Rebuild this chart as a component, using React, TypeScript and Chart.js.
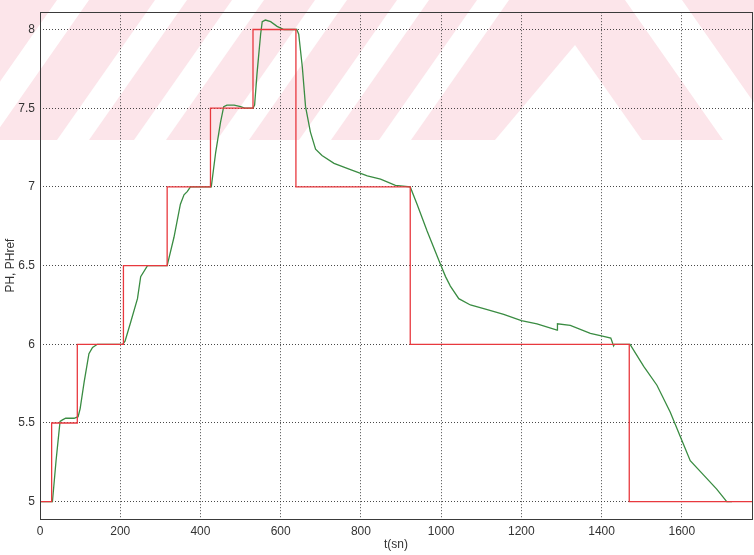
import React, { useEffect, useRef } from "react";
import { Chart, registerables } from "chart.js";

Chart.register(...registerables);

// ---- data ----
const xTicks = [0, 200, 400, 600, 800, 1000, 1200, 1400, 1600];
const yTicks = [5, 5.5, 6, 6.5, 7, 7.5, 8];

// reference (PHref) step changes
const refTimes = [0, 29, 93, 208, 317, 425, 531, 638, 923, 1469, 1775];
const refValues = [5, 5.5, 6, 6.5, 7, 7.5, 8, 7, 6, 5, 5];

// measured PH
const phTimes = [
  0, 31, 40, 50, 56, 64, 85, 95, 100, 110, 122, 131, 143, 206, 212, 226, 243, 251, 268, 317,
  334, 350, 359, 367, 375, 427, 438, 450, 458, 466, 484, 500, 510, 531, 535, 541, 550, 554,
  562, 575, 591, 608, 640, 645, 654, 662, 674, 687, 703, 733, 774, 816, 849, 886, 923, 940,
  965, 998, 1011, 1023, 1044, 1073, 1115, 1156, 1200, 1239, 1289, 1290, 1322, 1372, 1405,
  1423, 1430, 1432, 1469, 1471, 1505, 1538, 1571, 1600, 1621, 1654, 1687, 1712, 1725,
];
const phValues = [
  5.0, 5.0, 5.26, 5.51, 5.52, 5.53, 5.53, 5.54, 5.59, 5.76, 5.94, 5.98, 6.0, 6.0, 6.02, 6.14,
  6.29, 6.43, 6.5, 6.5, 6.68, 6.89, 6.95, 6.97, 7.0, 7.0, 7.22, 7.41, 7.51, 7.52, 7.52, 7.51,
  7.5, 7.5, 7.52, 7.72, 7.97, 8.05, 8.06, 8.05, 8.02, 8.0, 8.0, 7.97, 7.76, 7.51, 7.35, 7.24,
  7.2, 7.15, 7.11, 7.07, 7.05, 7.01, 7.0, 6.89, 6.72, 6.51, 6.43, 6.37, 6.29, 6.25, 6.22,
  6.19, 6.15, 6.13, 6.09, 6.13, 6.12, 6.07, 6.05, 6.04, 5.99, 6.0, 6.0, 6.0, 5.86, 5.74, 5.57,
  5.39, 5.26, 5.17, 5.08, 5.0, 5.0,
];

const X_MIN = 0;
const X_MAX = 1775;
const Y_MIN = 4.89;
const Y_MAX = 8.11;

const FONT = "'Liberation Sans', Arial, sans-serif";

// faint watermark in the background (decoration)
const watermarkPlugin = {
  id: "watermark",
  beforeDraw(chart: any) {
    const ctx = chart.ctx as CanvasRenderingContext2D;
    const W = chart.width;
    const H = 140;
    ctx.save();
    ctx.fillStyle = "#ffffff";
    ctx.fillRect(0, 0, chart.width, chart.height);
    ctx.fillStyle = "#fce5ea";
    ctx.fillRect(0, 0, W, H);
    ctx.fillStyle = "#ffffff";
    const tops = [57, 155, 232, 315, 397, 477];
    const shift = 98;
    const w = 32;
    tops.forEach((t) => {
      ctx.beginPath();
      ctx.moveTo(t, 0);
      ctx.lineTo(t + w, 0);
      ctx.lineTo(t + w - shift, H);
      ctx.lineTo(t - shift, H);
      ctx.closePath();
      ctx.fill();
    });
    ctx.beginPath();
    ctx.moveTo(575, 45);
    ctx.lineTo(642, H);
    ctx.lineTo(495, H);
    ctx.closePath();
    ctx.fill();
    ctx.beginPath();
    ctx.moveTo(625, 0);
    ctx.lineTo(682, 0);
    ctx.lineTo(780, H);
    ctx.lineTo(723, H);
    ctx.closePath();
    ctx.fill();
    ctx.restore();
  },
};

const framePlugin = {
  id: "frame",
  afterDraw(chart: any) {
    const { ctx, chartArea } = chart;
    ctx.save();
    ctx.strokeStyle = "#3a3a3a";
    ctx.lineWidth = 1;
    ctx.strokeRect(
      Math.round(chartArea.left) + 0.5,
      Math.round(chartArea.top) + 0.5,
      Math.round(chartArea.right - chartArea.left),
      Math.round(chartArea.bottom - chartArea.top)
    );
    ctx.restore();
  },
};

export default function App() {
  const ref = useRef<HTMLCanvasElement | null>(null);

  useEffect(() => {
    document.body.style.margin = "0";
    document.body.style.overflow = "hidden";
    const canvas = ref.current;
    if (!canvas) return;

    const refData = refTimes.map((t, i) => ({ x: t, y: refValues[i] }));
    const phData = phTimes.map((t, i) => ({ x: t, y: phValues[i] }));

    const chart = new Chart(canvas, {
      type: "line",
      data: {
        datasets: [
          {
            label: "PHref",
            data: refData,
            borderColor: "rgb(232,56,62)",
            borderWidth: 1.3,
            pointRadius: 0,
            stepped: "before",
            fill: false,
            order: 0,
          },
          {
            label: "PH",
            data: phData,
            borderColor: "rgb(58,140,66)",
            borderWidth: 1.3,
            pointRadius: 0,
            tension: 0,
            fill: false,
            order: 1,
          },
        ],
      },
      options: {
        responsive: false,
        animation: false,
        events: [],
        layout: { padding: { top: 5, right: 2, left: 0, bottom: 0 } },
        plugins: {
          legend: { display: false },
          tooltip: { enabled: false },
          title: { display: false },
        },
        scales: {
          x: {
            type: "linear",
            min: X_MIN,
            max: X_MAX,
            afterBuildTicks: (scale: any) => {
              scale.ticks = xTicks.map((v) => ({ value: v }));
            },
            afterFit: (scale: any) => {
              scale.height = 36;
            },
            border: { display: false, dash: [1, 2] },
            grid: {
              color: "rgba(40,40,40,0.85)",
              lineWidth: 1,
              drawTicks: false,
            },
            ticks: {
              padding: 5,
              color: "#333",
              font: { family: FONT, size: 12 },
              maxRotation: 0,
              autoSkip: false,
              callback: (v: any) => String(v),
            },
            title: {
              display: true,
              text: "t(sn)",
              color: "#333",
              font: { family: FONT, size: 12 },
              padding: { top: 0, bottom: 3 },
            },
          },
          y: {
            type: "linear",
            min: Y_MIN,
            max: Y_MAX,
            afterBuildTicks: (scale: any) => {
              scale.ticks = yTicks.map((v) => ({ value: v }));
            },
            afterFit: (scale: any) => {
              scale.width = 40;
            },
            border: { display: false, dash: [1, 2] },
            grid: {
              color: "rgba(40,40,40,0.85)",
              lineWidth: 1,
              drawTicks: false,
            },
            ticks: {
              padding: 5,
              color: "#333",
              font: { family: FONT, size: 12 },
              autoSkip: false,
              callback: (v: any) => String(v),
            },
            title: {
              display: true,
              text: "PH, PHref",
              color: "#333",
              font: { family: FONT, size: 12 },
              padding: { top: 3, bottom: 0 },
            },
          },
        },
      } as any,
      plugins: [watermarkPlugin, framePlugin],
    });

    return () => chart.destroy();
  }, []);

  return (
    <canvas
      ref={ref}
      width={754}
      height={555}
      style={{ display: "block", width: 754, height: 555 }}
    />
  );
}
